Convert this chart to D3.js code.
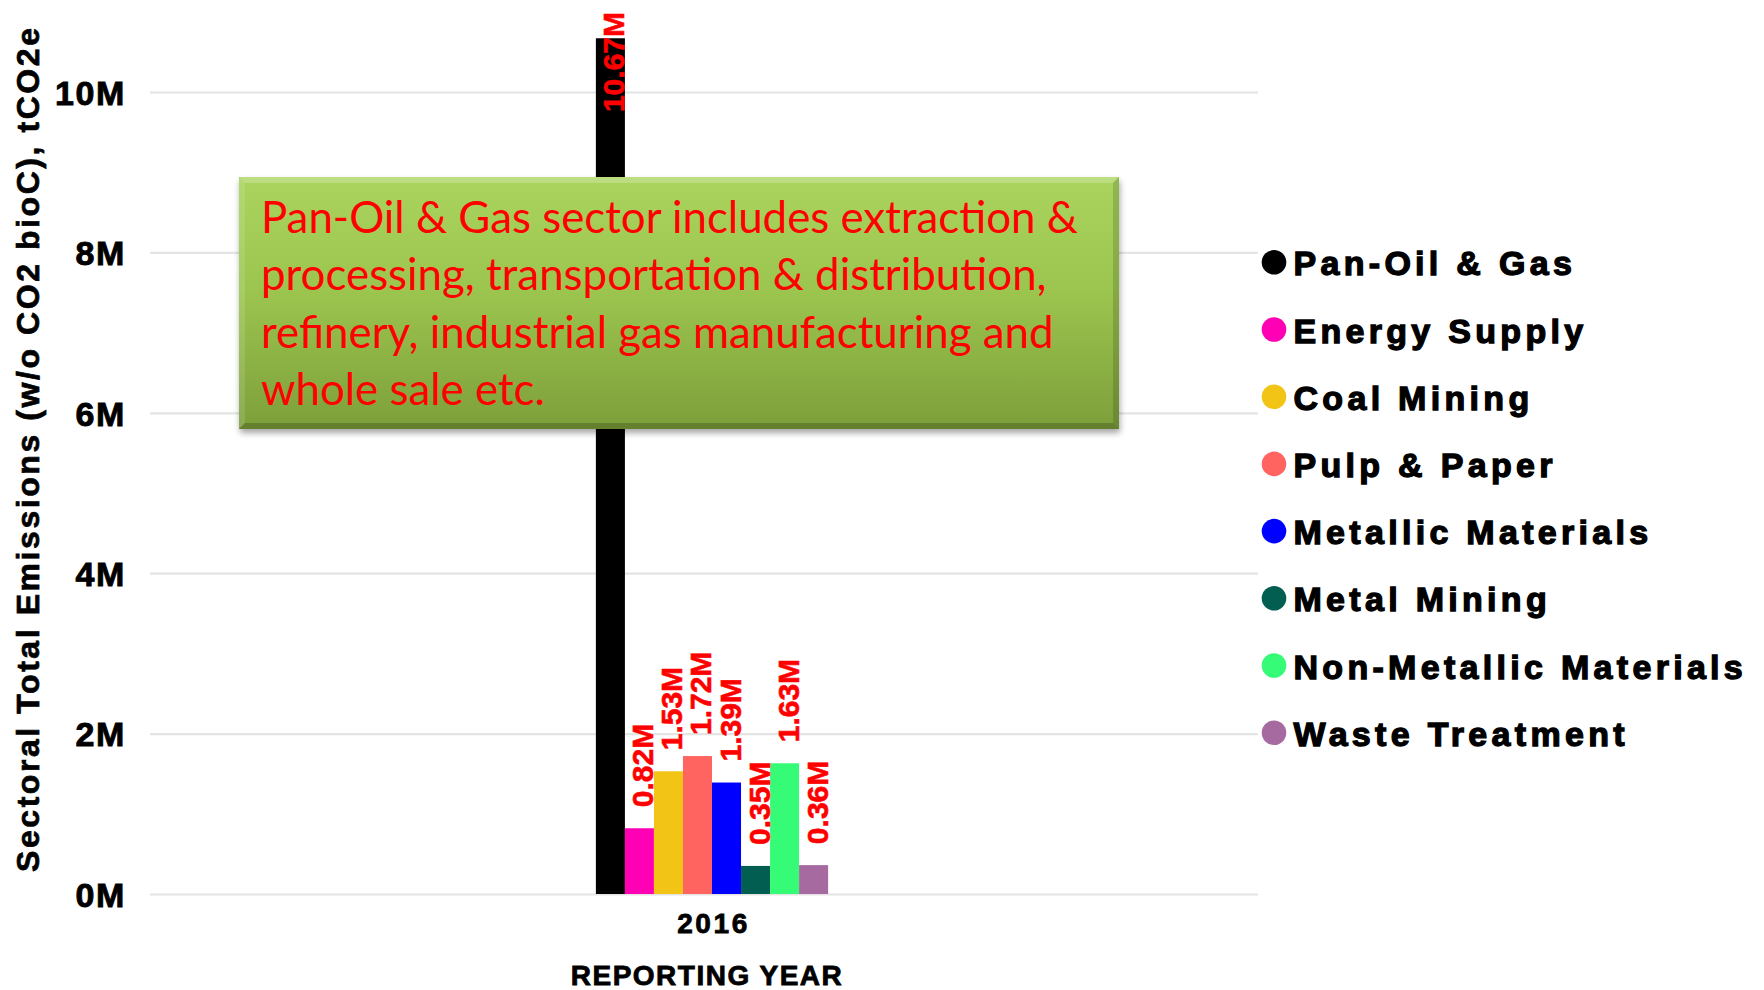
<!DOCTYPE html>
<html>
<head>
<meta charset="utf-8">
<script src="https://cdn.jsdelivr.net/npm/d3@7"></script>
<style>
  html, body { margin: 0; padding: 0; background: #ffffff; }
  svg { display: block; }
</style>
</head>
<body>
<svg id="chart" width="1764" height="990"></svg>
<script>
// ---------- data ----------
const years = ["2016"];
const sectors = ["Pan-Oil & Gas", "Energy Supply", "Coal Mining", "Pulp & Paper",
                 "Metallic Materials", "Metal Mining", "Non-Metallic Materials", "Waste Treatment"];
const values2016 = [10.67e6, 0.82e6, 1.53e6, 1.72e6, 1.39e6, 0.35e6, 1.63e6, 0.36e6];
const sectorColors = ["#000000", "#ff00b4", "#f1c415", "#ff6461", "#0000ff", "#035e52", "#35fb76", "#a66aa0"];
const yTickValues = [0, 2e6, 4e6, 6e6, 8e6, 10e6];
const yAxisTitle = "Sectoral Total Emissions (w/o CO2 bioC), tCO2e";
const xAxisTitle = "REPORTING YEAR";
const noteLines = ["Pan-Oil & Gas sector includes extraction &",
                   "processing, transportation & distribution,",
                   "refinery, industrial gas manufacturing and",
                   "whole sale etc."];

// ---------- layout ----------
const W = 1764, H = 990;
const plotLeft = 150, plotRight = 1258;
const svg = d3.select("#chart");
const boldFont = "'Liberation Sans', Arial, Helvetica, sans-serif";

const y = d3.scaleLinear().domain([0, 10e6]).range([894, 92]);
const x0 = d3.scaleBand().domain(years).range([plotLeft, 1274]).paddingInner(0).paddingOuter(1.92);
const x1 = d3.scaleBand().domain(sectors).range([0, x0.bandwidth()]).padding(0);
const color = d3.scaleOrdinal().domain(sectors).range(sectorColors);

// ---------- gridlines + y tick labels ----------
const yAxis = d3.axisLeft(y)
  .tickValues(yTickValues)
  .tickSize(-(plotRight - plotLeft))
  .tickPadding(24)
  .tickFormat(d => (d / 1e6) + "M");
const gy = svg.append("g").attr("transform", `translate(${plotLeft},0)`).call(yAxis);
gy.select(".domain").remove();
gy.selectAll(".tick line").attr("stroke", "#e4e4e4").attr("stroke-width", 2.2);
gy.selectAll(".tick text")
  .attr("fill", "#000")
  .attr("stroke", "#000").attr("stroke-width", 0.9)
  .attr("font-family", boldFont)
  .attr("font-weight", "bold")
  .attr("font-size", 34)
  .attr("letter-spacing", "1.6px")
  .attr("dy", "0.36em");

// ---------- y axis title ----------
svg.append("text")
  .attr("transform", `translate(38.5,450) rotate(-90)`)
  .attr("text-anchor", "middle")
  .attr("font-family", boldFont)
  .attr("font-weight", "bold")
  .attr("font-size", 32)
  .attr("textLength", 844)
  .attr("lengthAdjust", "spacing")
  .attr("fill", "#000")
  .attr("stroke", "#000").attr("stroke-width", 0.7)
  .text(yAxisTitle);

// ---------- bars ----------
const rows = sectors.map((s, i) => ({ year: years[0], sector: s, value: values2016[i] }));
const barG = svg.append("g");
barG.selectAll("rect")
  .data(rows)
  .join("rect")
  .attr("x", d => x0(d.year) + x1(d.sector))
  .attr("y", d => y(d.value))
  .attr("width", x1.bandwidth())
  .attr("height", d => y(0) - y(d.value))
  .attr("fill", d => color(d.sector));

// ---------- bar value labels (rotated) ----------
const labelG = svg.append("g");
labelG.selectAll("text")
  .data(rows)
  .join("text")
  .attr("font-family", boldFont)
  .attr("font-weight", "bold")
  .attr("font-size", 30)
  .attr("fill", "#ff0000")
  .attr("stroke", "#ff0000").attr("stroke-width", 0.6)
  .attr("text-anchor", "start")
  .text(d => (d.value / 1e6).toFixed(2) + "M")
  .each(function(d) {
    const len = this.getComputedTextLength();
    const cx = x0(d.year) + x1(d.sector) + x1.bandwidth() / 2 + 3;
    let start = y(d.value) - 21;
    if (start - len < 12) start = 12 + len;
    d3.select(this).attr("transform", `translate(${cx + 11},${start}) rotate(-90)`);
  });

// ---------- x labels ----------
svg.append("text")
  .attr("x", x0("2016") + x0.bandwidth() / 2 + 1.5)
  .attr("y", 933)
  .attr("text-anchor", "middle")
  .attr("font-family", boldFont).attr("font-weight", "bold")
  .attr("stroke", "#000").attr("stroke-width", 0.8)
  .attr("font-size", 28).attr("letter-spacing", "2.6px")
  .text(years[0]);

svg.append("text")
  .attr("x", 707)
  .attr("y", 985)
  .attr("text-anchor", "middle")
  .attr("font-family", boldFont).attr("font-weight", "bold")
  .attr("stroke", "#000").attr("stroke-width", 0.8)
  .attr("font-size", 28).attr("letter-spacing", "1.5px")
  .text(xAxisTitle);

// ---------- legend ----------
const legend = svg.append("g");
const legendY = d3.scaleBand().domain(sectors).range([228.7, 228.7 + 8 * 67.2]);
const lg = legend.selectAll("g").data(sectors).join("g")
  .attr("transform", d => `translate(1274,${legendY(d) + legendY.bandwidth() / 2})`);
lg.append("circle").attr("r", 12.3).attr("fill", d => color(d));
lg.append("text")
  .attr("x", 19.5)
  .attr("y", 13)
  .attr("font-family", boldFont).attr("font-weight", "bold")
  .attr("font-size", 34).attr("letter-spacing", "4.3px")
  .attr("fill", "#000")
  .attr("stroke", "#000").attr("stroke-width", 1.3)
  .text(d => d);

// ---------- annotation box ----------
const defs = svg.append("defs");
const grad = defs.append("linearGradient").attr("id", "boxGrad")
  .attr("x1", 0).attr("y1", 0).attr("x2", 0).attr("y2", 1);
grad.append("stop").attr("offset", "0%").attr("stop-color", "#aad45e");
grad.append("stop").attr("offset", "45%").attr("stop-color", "#9cc54f");
grad.append("stop").attr("offset", "100%").attr("stop-color", "#7d9f3a");
const blur = defs.append("filter").attr("id", "shadowBlur")
  .attr("x", "-5%").attr("y", "-10%").attr("width", "110%").attr("height", "130%");
blur.append("feGaussianBlur").attr("stdDeviation", 3);

const bx = 239, by = 177, bw = 880, bh = 252, bev = 6;
const box = svg.append("g");
box.append("rect").attr("x", bx + 1).attr("y", by + 4).attr("width", bw).attr("height", bh)
  .attr("fill", "#000").attr("opacity", 0.35).attr("filter", "url(#shadowBlur)");
box.append("rect").attr("x", bx).attr("y", by).attr("width", bw).attr("height", bh)
  .attr("fill", "url(#boxGrad)");
// bevel edges
const bevel = [
  { pts: [[bx, by], [bx + bw, by], [bx + bw - bev, by + bev], [bx + bev, by + bev]], c: "#ffffff", o: 0.22 },
  { pts: [[bx, by], [bx + bev, by + bev], [bx + bev, by + bh - bev], [bx, by + bh]], c: "#ffffff", o: 0.12 },
  { pts: [[bx + bw, by], [bx + bw, by + bh], [bx + bw - bev, by + bh - bev], [bx + bw - bev, by + bev]], c: "#000000", o: 0.14 },
  { pts: [[bx, by + bh], [bx + bev, by + bh - bev], [bx + bw - bev, by + bh - bev], [bx + bw, by + bh]], c: "#000000", o: 0.2 }
];
box.selectAll("polygon").data(bevel).join("polygon")
  .attr("points", d => d.pts.map(p => p.join(",")).join(" "))
  .attr("fill", d => d.c).attr("opacity", d => d.o);

const noteFont = "Lato, 'Open Sans', 'Noto Sans', sans-serif";
const noteText = box.append("text")
  .attr("font-family", noteFont)
  .attr("font-size", 44)
  .attr("fill", "#ff0000");
const tspans = noteText.selectAll("tspan").data(noteLines).join("tspan")
  .attr("x", 261)
  .attr("y", (d, i) => 233 + i * 57.4)
  .text(d => d);
// fit line 1 width to the reference width (261 -> 1078)
const w1 = tspans.nodes()[0].getComputedTextLength();
const fs = 44 * 817 / w1;
noteText.attr("font-size", fs);
</script>
</body>
</html>
